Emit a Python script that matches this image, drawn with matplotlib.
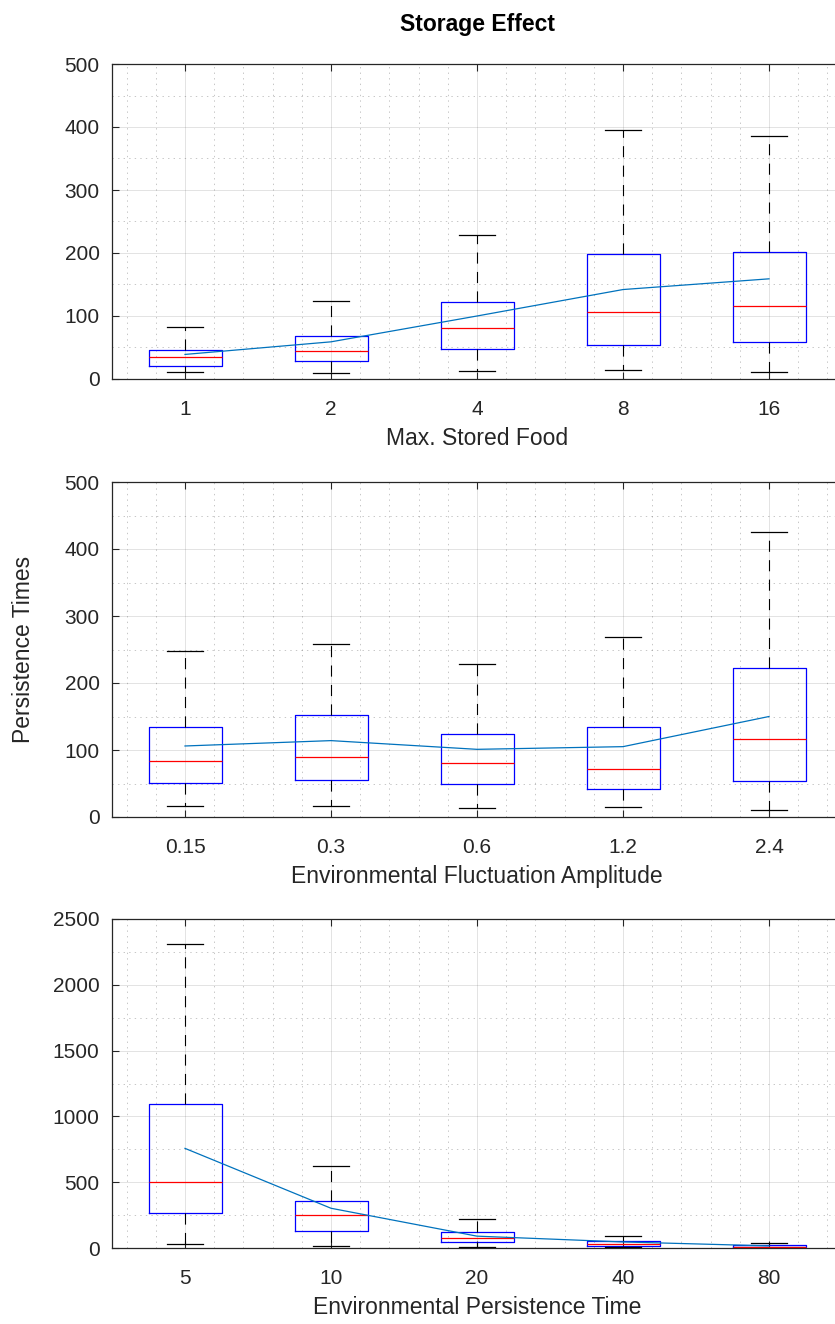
import matplotlib
matplotlib.use("Agg")
import matplotlib.pyplot as plt
from matplotlib.ticker import MultipleLocator

plt.rcParams['font.family'] = ['Liberation Sans', 'DejaVu Sans']
plt.rcParams['lines.scale_dashes'] = False

# ---- data ----
food_labels = ['1', '2', '4', '8', '16']
food_whislo = [11, 9.5, 12, 14, 11]
food_q1 = [20.6, 29, 47.6, 53.4, 58]
food_med = [35, 44, 80.5, 106, 116]
food_q3 = [45.5, 68, 122, 199, 201]
food_whishi = [82.5, 124, 228, 395, 385]
food_mean = [39, 59, 100, 142, 159]

amp_labels = ['0.15', '0.3', '0.6', '1.2', '2.4']
amp_whislo = [16, 16, 13, 15, 10]
amp_q1 = [51, 54.7, 49, 41.8, 53]
amp_med = [83.6, 90, 81, 71.6, 117]
amp_q3 = [134, 152.7, 124, 134.8, 223]
amp_whishi = [248, 258, 229, 268, 426]
amp_mean = [106, 114, 101, 105, 150]

pers_labels = ['5', '10', '20', '40', '80']
pers_whislo = [33, 12, 8, 4, 1]
pers_q1 = [264, 132, 43, 18, 4]
pers_med = [504, 251, 76, 33, 10]
pers_q3 = [1097, 360, 119, 51, 20]
pers_whishi = [2307, 623, 223, 94, 40]
pers_mean = [757, 302, 90, 46, 16]

panels = [
    (food_labels, food_whislo, food_q1, food_med, food_q3, food_whishi, food_mean,
     'Max. Stored Food', 500, 100, 50),
    (amp_labels, amp_whislo, amp_q1, amp_med, amp_q3, amp_whishi, amp_mean,
     'Environmental Fluctuation Amplitude', 500, 100, 50),
    (pers_labels, pers_whislo, pers_q1, pers_med, pers_q3, pers_whishi, pers_mean,
     'Environmental Persistence Time', 2500, 500, 250),
]

W, H = 835, 1324
fig = plt.figure(figsize=(W / 100, H / 100), dpi=100)
# axes pixel boxes: (left, top, right, bottom)
boxes_px = [(112, 64, 842, 379), (112, 482, 842, 817), (112, 919, 842, 1248)]

axes = []
for (lx, ty, rx, by), p in zip(boxes_px, panels):
    labels, wlo, q1, med, q3, whi, mean, xlabel, ymax, ymaj, ymin = p
    ax = fig.add_axes([lx / W, 1 - by / H, (rx - lx) / W, (by - ty) / H])
    stats = []
    for i in range(len(labels)):
        stats.append(dict(whislo=wlo[i], q1=q1[i], med=med[i], q3=q3[i],
                          whishi=whi[i], fliers=[], label=labels[i]))
    ax.bxp(stats, positions=range(1, len(labels) + 1), widths=0.5,
           showfliers=False,
           boxprops=dict(color='#0000FF', linewidth=0.9),
           medianprops=dict(color='#FF0000', linewidth=0.9),
           whiskerprops=dict(color='black', linewidth=0.8, linestyle=(0, (8, 6))),
           capprops=dict(color='black', linewidth=0.9),
           capwidths=0.25)
    ax.plot(range(1, len(labels) + 1), mean, color='#0072BD', linewidth=0.9, zorder=5)
    ax.set_xlim(0.5, len(labels) + 0.5)
    ax.set_ylim(0, ymax)
    ax.yaxis.set_major_locator(MultipleLocator(ymaj))
    ax.yaxis.set_minor_locator(MultipleLocator(ymin))
    ax.xaxis.set_minor_locator(MultipleLocator(0.2))
    ax.set_xticks(range(1, len(labels) + 1))
    ax.set_xticklabels(labels)
    ax.grid(True, which='major', color='#262626', alpha=0.15, linewidth=0.6, linestyle='-')
    ax.grid(True, which='minor', color='#262626', alpha=0.3, linewidth=0.6, linestyle=(0, (1, 3)))
    ax.set_axisbelow(True)
    ax.tick_params(which='major', direction='in', length=5, width=0.8, color='#262626',
                   top=True, right=True, labelsize=15, labelcolor='#262626')
    ax.tick_params(axis='x', which='major', pad=15)
    ax.tick_params(axis='y', which='major', pad=9)
    ax.tick_params(which='minor', length=0)
    for s in ax.spines.values():
        s.set_color('#262626')
        s.set_linewidth(0.9)
    ax.set_xlabel(xlabel, fontsize=16.5, color='#262626', labelpad=6)
    axes.append(ax)

axes[0].set_title('Storage Effect', fontsize=16.5, fontweight='bold', pad=24)
axes[1].set_ylabel('Persistence Times', fontsize=16.5, color='#262626', labelpad=21)

fig.savefig('out.png', dpi=100)
